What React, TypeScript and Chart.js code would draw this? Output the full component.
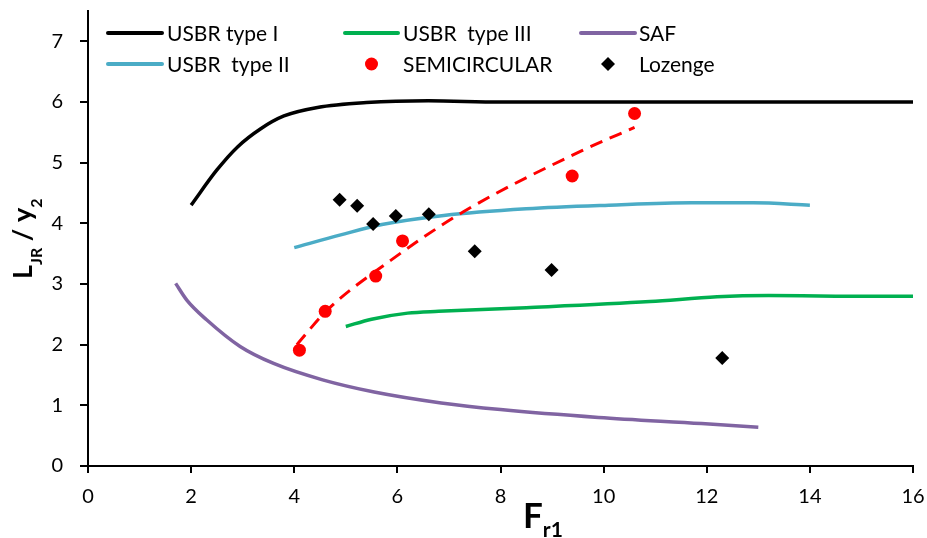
import React, { useEffect, useRef } from "react";
import { Chart, registerables } from "chart.js";

Chart.register(...registerables);

// ---- Data ----
const usbr1X = [2.0, 2.5, 2.9, 3.35, 3.8, 4.45, 5.4, 6.6, 8.0, 10, 12, 14, 16];
const usbr1Y = [4.3, 4.88, 5.26, 5.56, 5.77, 5.91, 5.99, 6.02, 6.0, 6.0, 6.0, 6.0, 6.0];

const usbr2X = [4.0, 4.9, 5.7, 6.9, 8.5, 10.1, 11.7, 12.9, 14.0];
const usbr2Y = [3.6, 3.81, 3.98, 4.13, 4.24, 4.3, 4.34, 4.34, 4.3];

const usbr3X = [5.0, 5.5, 6.2, 6.8, 8.5, 10.9, 12.2, 13.2, 14.5, 16];
const usbr3Y = [2.3, 2.42, 2.52, 2.55, 2.61, 2.71, 2.79, 2.81, 2.8, 2.8];

const safX = [1.7, 1.92, 2.3, 2.95, 3.6, 4.55, 5.55, 6.85, 8.0, 9.9, 11.9, 13.0];
const safY = [3.01, 2.73, 2.41, 1.97, 1.69, 1.42, 1.22, 1.04, 0.93, 0.8, 0.7, 0.64];

const semiX = [4.1, 4.6, 5.58, 6.1, 9.39, 10.6];
const semiY = [1.91, 2.55, 3.13, 3.71, 4.78, 5.81];

const trendX = [4.05, 4.64, 5.87, 7.28, 9.61, 10.6];
const trendY = [2.0, 2.57, 3.39, 4.19, 5.21, 5.58];

const lozX = [4.88, 5.22, 5.53, 5.97, 6.61, 7.5, 8.99, 12.3];
const lozY = [4.39, 4.29, 3.99, 4.12, 4.15, 3.54, 3.23, 1.78];

const xTicks = [0, 2, 4, 6, 8, 10, 12, 14, 16];
const yTicks = [0, 1, 2, 3, 4, 5, 6, 7];

const legendItems = [
  { text: "USBR type I", kind: "line", color: "#000000" },
  { text: "USBR  type III", kind: "line", color: "#00B050" },
  { text: "SAF", kind: "line", color: "#8064A2" },
  { text: "USBR  type II", kind: "line", color: "#4BACC6" },
  { text: "SEMICIRCULAR", kind: "circle", color: "#FF0000" },
  { text: "Lozenge", kind: "diamond", color: "#000000" },
];

const pts = (xs: number[], ys: number[]) => xs.map((x, i) => ({ x, y: ys[i] }));

const FONT = "Lato, 'Open Sans', sans-serif";

type Seg = { text: string; font: string; dy: number };
const drawRich = (ctx: CanvasRenderingContext2D, segs: Seg[], x: number, y: number) => {
  let cx = x;
  for (const s of segs) {
    ctx.font = s.font;
    ctx.fillText(s.text, cx, y + s.dy);
    cx += ctx.measureText(s.text).width;
  }
};

const overlayPlugin = {
  id: "overlay",
  afterDraw(chart: any) {
    const ctx: CanvasRenderingContext2D = chart.ctx;
    ctx.save();
    ctx.fillStyle = "#000";
    ctx.textBaseline = "alphabetic";
    ctx.textAlign = "left";

    // X axis title: F_r1
    drawRich(
      ctx,
      [
        { text: "F", font: `bold 35px ${FONT}`, dy: 0 },
        { text: "r1", font: `bold 21px ${FONT}`, dy: 9 },
      ],
      523,
      528
    );

    // Y axis title: L_JR / y_2 (rotated)
    ctx.save();
    ctx.translate(32, 279);
    ctx.rotate(-Math.PI / 2);
    drawRich(
      ctx,
      [
        { text: "L", font: `bold 27px ${FONT}`, dy: 0 },
        { text: "JR", font: `bold 16px ${FONT}`, dy: 10 },
        { text: " / ", font: `bold 27px ${FONT}`, dy: 0 },
        { text: "y", font: `bold 27px ${FONT}`, dy: 0 },
        { text: "2", font: `bold 16px ${FONT}`, dy: 10 },
      ],
      0,
      0
    );
    ctx.restore();

    // Legend
    const colsLine = [
      [108, 162],
      [345, 398],
      [581, 635],
    ];
    const colsText = [167, 403, 639];
    const rowsY = [33, 64];
    ctx.textBaseline = "middle";
    legendItems.forEach((it, i) => {
      const row = Math.floor(i / 3);
      const col = i % 3;
      const y = rowsY[row];
      const [x1, x2] = colsLine[col];
      if (it.kind === "line") {
        ctx.beginPath();
        ctx.strokeStyle = it.color;
        ctx.lineWidth = 4;
        ctx.lineCap = "round";
        ctx.moveTo(x1, y);
        ctx.lineTo(x2, y);
        ctx.stroke();
      } else if (it.kind === "circle") {
        ctx.beginPath();
        ctx.fillStyle = it.color;
        ctx.arc((x1 + x2) / 2, y, 6.5, 0, Math.PI * 2);
        ctx.fill();
      } else {
        const cx = (x1 + x2) / 2;
        const r = 7;
        ctx.beginPath();
        ctx.fillStyle = it.color;
        ctx.moveTo(cx, y - r);
        ctx.lineTo(cx + r, y);
        ctx.lineTo(cx, y + r);
        ctx.lineTo(cx - r, y);
        ctx.closePath();
        ctx.fill();
      }
      ctx.fillStyle = "#000";
      ctx.font = `21px ${FONT}`;
      ctx.fillText(it.text, colsText[col], y + 1);
    });
    ctx.restore();
  },
};

const zeroPad = (scale: any) => {
  scale.paddingTop = 0;
  scale.paddingBottom = 0;
  scale.paddingLeft = 0;
  scale.paddingRight = 0;
};

export default function App() {
  const canvasRef = useRef<HTMLCanvasElement | null>(null);

  useEffect(() => {
    let chart: Chart | null = null;
    let cancelled = false;
    const make = () => {
      if (cancelled || !canvasRef.current) return;
      const lineDs = (label: string, xs: number[], ys: number[], color: string) => ({
        label,
        data: pts(xs, ys),
        showLine: true,
        borderColor: color,
        backgroundColor: color,
        borderWidth: 3.5,
        pointRadius: 0,
        pointHoverRadius: 0,
        cubicInterpolationMode: "monotone" as const,
        order: 2,
      });
      chart = new Chart(canvasRef.current, {
        type: "scatter",
        data: {
          datasets: [
            {
              label: "Lozenge",
              data: pts(lozX, lozY),
              pointStyle: "rectRot",
              pointRadius: 7,
              backgroundColor: "#000000",
              borderColor: "#000000",
              borderWidth: 0,
              showLine: false,
              order: 0,
            },
            {
              label: "SEMICIRCULAR",
              data: pts(semiX, semiY),
              pointStyle: "circle",
              pointRadius: 6.5,
              backgroundColor: "#FF0000",
              borderColor: "#FF0000",
              borderWidth: 0,
              showLine: false,
              order: 0,
            },
            {
              label: "Trend",
              data: pts(trendX, trendY),
              showLine: true,
              borderColor: "#FF0000",
              borderWidth: 3,
              borderDash: [13, 8],
              pointRadius: 0,
              cubicInterpolationMode: "monotone",
              order: 1,
            },
            lineDs("USBR type I", usbr1X, usbr1Y, "#000000"),
            lineDs("USBR  type II", usbr2X, usbr2Y, "#4BACC6"),
            lineDs("USBR  type III", usbr3X, usbr3Y, "#00B050"),
            lineDs("SAF", safX, safY, "#8064A2"),
          ] as any,
        },
        options: {
          animation: false,
          responsive: true,
          maintainAspectRatio: false,
          layout: { padding: { left: 0, right: 14, top: 11, bottom: 0 } },
          plugins: { legend: { display: false }, tooltip: { enabled: false } },
          events: [],
          scales: {
            x: {
              type: "linear",
              min: 0,
              max: 16,
              afterBuildTicks: (scale: any) => {
                scale.ticks = xTicks.map((v) => ({ value: v }));
              },
              afterFit: (scale: any) => {
                scale.height = 72;
                zeroPad(scale);
              },
              ticks: {
                color: "#000",
                font: { family: FONT, size: 20 },
                padding: 12,
              },
              grid: {
                display: true,
                drawOnChartArea: false,
                drawTicks: true,
                tickLength: 7,
                color: "#000",
                lineWidth: 2,
              },
              border: { display: true, color: "#000", width: 2 },
            },
            y: {
              type: "linear",
              min: 0,
              max: 7.5,
              afterBuildTicks: (scale: any) => {
                scale.ticks = yTicks.map((v) => ({ value: v }));
              },
              afterFit: (scale: any) => {
                scale.width = 88;
                zeroPad(scale);
              },
              ticks: {
                color: "#000",
                font: { family: FONT, size: 20 },
                padding: 17,
              },
              grid: {
                display: true,
                drawOnChartArea: false,
                drawTicks: true,
                tickLength: 8,
                color: "#000",
                lineWidth: 2,
              },
              border: { display: true, color: "#000", width: 2 },
            },
          },
        } as any,
        plugins: [overlayPlugin],
      });
    };
    const fontsReady = (document as any).fonts
      ? Promise.all([
          (document as any).fonts.load(`20px Lato`),
          (document as any).fonts.load(`bold 30px Lato`),
        ]).catch(() => null)
      : Promise.resolve(null);
    fontsReady.then(make);
    return () => {
      cancelled = true;
      if (chart) chart.destroy();
    };
  }, []);

  return (
    <div
      style={{
        position: "fixed",
        left: 0,
        top: 0,
        width: 927,
        height: 538,
        background: "#fff",
      }}
    >
      <canvas ref={canvasRef} />
    </div>
  );
}
